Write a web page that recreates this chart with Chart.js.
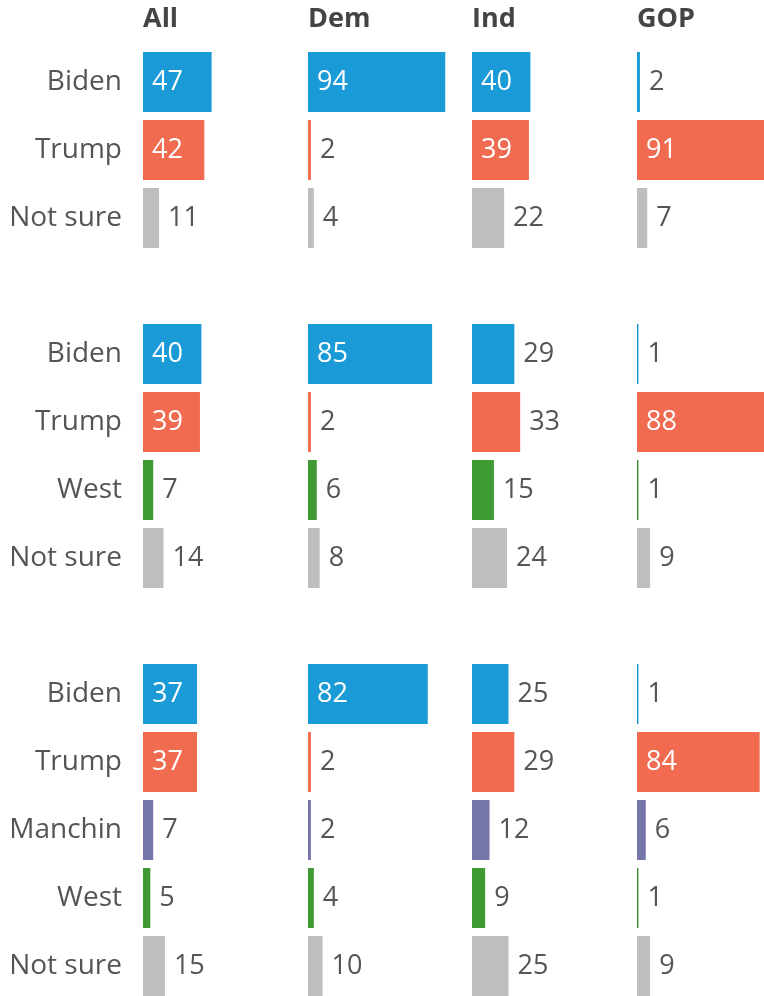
<!DOCTYPE html>
<html>
<head>
<meta charset="utf-8">
<script src="https://cdn.jsdelivr.net/npm/chart.js@4/dist/chart.umd.min.js"></script>
<style>
  html, body { margin: 0; padding: 0; background: #fff; overflow: hidden; width: 764px; height: 996px; }
  canvas { position: absolute; top: 0; }
</style>
</head>
<body>
<canvas id="c0" width="308" height="1000" style="left:0px"></canvas>
<canvas id="c1" width="165" height="1000" style="left:308px"></canvas>
<canvas id="c2" width="165" height="1000" style="left:472px"></canvas>
<canvas id="c3" width="165" height="1000" style="left:637px"></canvas>
<script>
// ---- data ----
const rowLabels = ['Biden','Trump','Not sure','', 'Biden','Trump','West','Not sure','', 'Biden','Trump','Manchin','West','Not sure'];
const columnTitles = ['All','Dem','Ind','GOP'];
const allValues = [47, 42, 11, null, 40, 39, 7, 14, null, 37, 37, 7, 5, 15];
const demValues = [94, 2, 4, null, 85, 2, 6, 8, null, 82, 2, 2, 4, 10];
const indValues = [40, 39, 22, null, 29, 33, 15, 24, null, 25, 29, 12, 9, 25];
const gopValues = [2, 91, 7, null, 1, 88, 1, 9, null, 1, 84, 6, 1, 9];

// ---- styles ----
const candidateColors = {
  'Biden': '#1a9ad6',
  'Trump': '#f06b50',
  'Not sure': '#bdbec0',
  'West': '#3f9a33',
  'Manchin': '#7676a8',
  '': '#ffffff'
};
const FONT = '"Open Sans", Lato, sans-serif';
const barColors = rowLabels.map(l => candidateColors[l]);

const valueLabelPlugin = {
  id: 'valueLabels',
  afterDatasetsDraw(chart) {
    const ctx = chart.ctx;
    const meta = chart.getDatasetMeta(0);
    const data = chart.data.datasets[0].data;
    ctx.save();
    ctx.font = '27px ' + FONT;
    ctx.textBaseline = 'middle';
    ctx.textAlign = 'left';
    meta.data.forEach((bar, i) => {
      const v = data[i];
      if (v === null || v === undefined) return;
      if (v >= 35) {
        ctx.fillStyle = '#ffffff';
        ctx.fillText(String(v), bar.base + 9, bar.y);
      } else {
        ctx.fillStyle = '#555555';
        ctx.fillText(String(v), bar.x + 9, bar.y);
      }
    });
    ctx.restore();
  }
};

function makeChart(id, values, title, showLabels) {
  return new Chart(document.getElementById(id), {
    type: 'bar',
    data: {
      labels: rowLabels,
      datasets: [{
        data: values,
        backgroundColor: barColors,
        borderWidth: 0,
        categoryPercentage: 1,
        barPercentage: 60 / 68
      }]
    },
    options: {
      indexAxis: 'y',
      responsive: false,
      animation: false,
      devicePixelRatio: 1,
      layout: { padding: 0 },
      plugins: {
        legend: { display: false },
        tooltip: { enabled: false },
        title: {
          display: true,
          text: title,
          align: 'start',
          fullSize: false,
          color: '#444444',
          font: { family: FONT, size: 27, weight: 'bold', lineHeight: 1.2 },
          padding: { top: 3, bottom: 12.6 }
        }
      },
      scales: {
        x: { display: false, min: 0, max: 113 },
        y: {
          display: true,
          offset: true,
          grid: { display: false, drawTicks: false },
          border: { display: false },
          ticks: {
            display: showLabels,
            color: '#555555',
            padding: 21,
            font: { family: FONT, size: 28 }
          },
          afterFit(scale) {
            scale.width = showLabels ? 143 : 0;
            scale.paddingTop = 0;
            scale.paddingBottom = 0;
          }
        }
      }
    },
    plugins: [valueLabelPlugin]
  });
}

makeChart('c0', allValues, columnTitles[0], true);
makeChart('c1', demValues, columnTitles[1], false);
makeChart('c2', indValues, columnTitles[2], false);
makeChart('c3', gopValues, columnTitles[3], false);
</script>
</body>
</html>
